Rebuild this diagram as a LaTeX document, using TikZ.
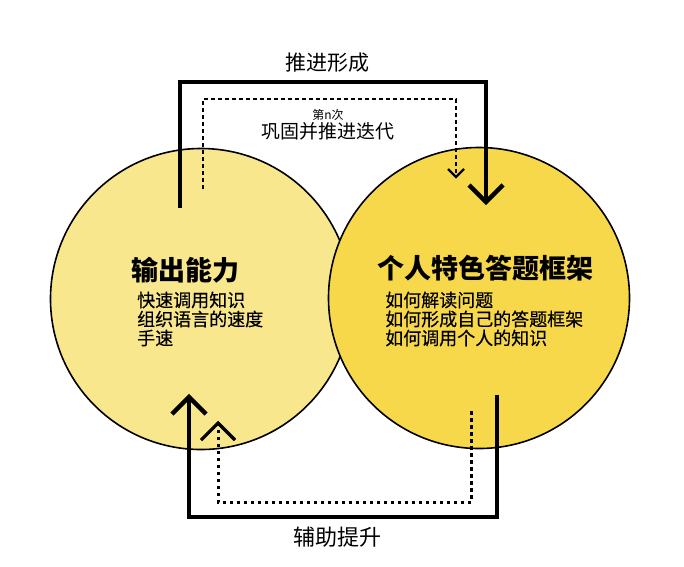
\documentclass[tikz,border=0pt]{standalone}
\usepackage{fontspec}
\setmainfont{Noto Sans CJK SC}
\newfontfamily\medfont[FakeBold=0.35]{Noto Sans CJK SC}
\definecolor{leftfill}{HTML}{F9E78E}
\definecolor{rightfill}{HTML}{F7D84B}
\begin{document}
\begin{tikzpicture}[x=1pt,y=-1pt,
  bubble/.style={circle,draw=black,line width=1.6pt,minimum size=301pt,inner sep=0pt},
  solidarrow/.style={line width=4.5pt,line join=miter},
  chevbig/.style={line width=4.5pt,line join=miter,line cap=butt},
  dotline/.style={line width=2.6pt,dash pattern=on 4pt off 3pt},
  dotlineb/.style={line width=3pt,dash pattern=on 3.5pt off 3.5pt},
  chevsmall/.style={line width=2.2pt},
  chevsmallb/.style={line width=3.2pt},
  title/.style={font=\bfseries\fontsize{27}{29}\selectfont,inner sep=0pt,anchor=west},
  body/.style={font=\medfont\fontsize{18}{20}\selectfont,inner sep=0pt,anchor=west},
  lab/.style={font=\fontsize{21}{23}\selectfont,inner sep=0pt}
]
\useasboundingbox[fill=white] (0,0) rectangle (684,566);

% circles
\node[bubble,fill=leftfill] (L) at (201,299) {};
\node[bubble,fill=rightfill] (R) at (479,298) {};

% texts left
\node[title] (lt) at (131,270) {输出能力};
\node[body] (l1) at (137,300) {快速调用知识};
\node[body] (l2) at (137,319) {组织语言的速度};
\node[body] (l3) at (137,338) {手速};

% texts right
\node[title] (rt) at (377,268) {个人特色答题框架};
\node[body] (r1) at (385,300) {如何解读问题};
\node[body] (r2) at (385,319) {如何形成自己的答题框架};
\node[body] (r3) at (385,338) {如何调用个人的知识};

% top labels
\node[lab] (top) at (327,63) {推进形成};
\node[font=\fontsize{12}{13}\selectfont,inner sep=0pt] (nth) at (328,115) {第n次};
\node[font=\fontsize{19}{21}\selectfont,inner sep=0pt] (iter) at (328,131) {巩固并推进迭代};
\node[font=\fontsize{22}{24}\selectfont,inner sep=0pt] (bot) at (337,537) {辅助提升};

% top solid arrow
\coordinate (ts1) at (180,208);
\coordinate (ts2) at (180,82);
\coordinate (ts3) at (486,82);
\coordinate (ts4) at (486,202);
\coordinate (tsa) at (469,185);
\coordinate (tsb) at (503,185);
\draw[solidarrow] (ts1) -- (ts2) -- (ts3) -- (ts4);
\draw[chevbig] (tsa) -- (ts4) -- (tsb);

% top dotted arrow
\coordinate (td1) at (203,189);
\coordinate (td2) at (203,99);
\coordinate (td3) at (456,99);
\coordinate (td4) at (456,177);
\coordinate (tda) at (448,169);
\coordinate (tdb) at (464,169);
\draw[dotline] (td1) -- (td2) -- (td3) -- (td4);
\draw[chevsmall] (tda) -- (td4) -- (tdb);

% bottom solid arrow
\coordinate (bs1) at (497,395);
\coordinate (bs2) at (497,517);
\coordinate (bs3) at (189,517);
\coordinate (bs4) at (189,397);
\coordinate (bsa) at (172,414);
\coordinate (bsb) at (206,414);
\draw[solidarrow] (bs1) -- (bs2) -- (bs3) -- (bs4);
\draw[chevbig] (bsa) -- (bs4) -- (bsb);

% bottom dotted arrow
\coordinate (bd1) at (471,411);
\coordinate (bd2) at (471,502);
\coordinate (bd3) at (218,502);
\coordinate (bd4) at (218,423);
\coordinate (bda) at (201,440);
\coordinate (bdb) at (235,440);
\draw[dotlineb] (bd1) -- (bd2) -- (bd3) -- (bd4);
\draw[chevsmallb] (bda) -- (bd4) -- (bdb);
\end{tikzpicture}
\end{document}
